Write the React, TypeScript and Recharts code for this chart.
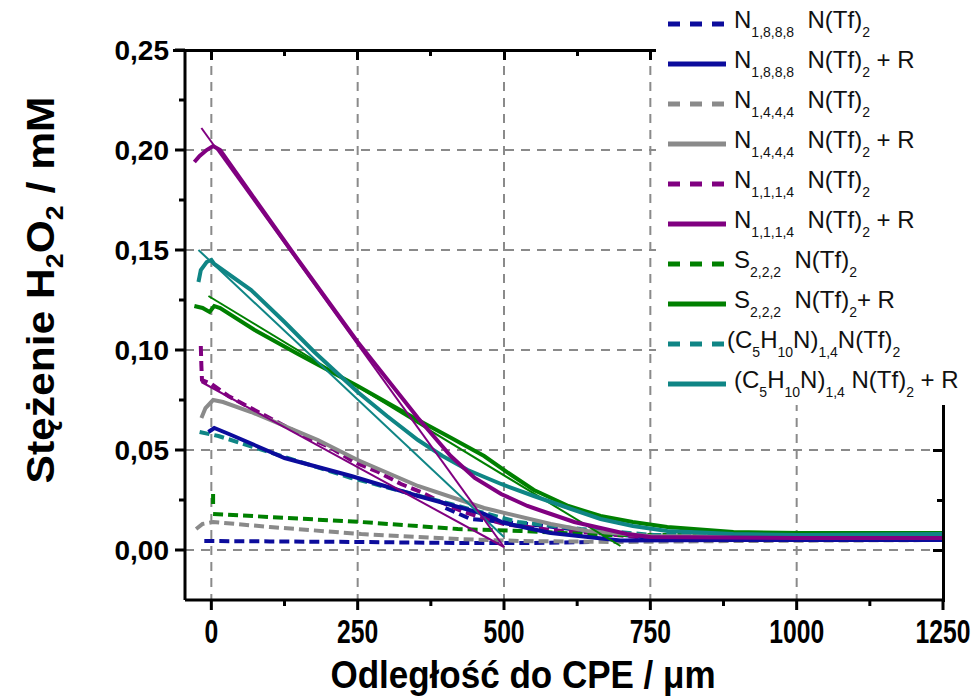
import React from 'react';
import { LineChart, Line, XAxis, YAxis, CartesianGrid } from 'recharts';

// colours of the series
const BLUE = '#0c0c9c';
const GRAY = '#8a8a8a';
const PURPLE = '#800080';
const GREEN = '#008000';
const TEAL = '#0f8585';

// axis ticks
const xTicks = [0, 125, 250, 375, 500, 625, 750, 875, 1000, 1125, 1250];
const xMajor = [0, 250, 500, 750, 1000, 1250];
const yTicks = [0, 0.025, 0.05, 0.075, 0.1, 0.125, 0.15, 0.175, 0.2, 0.225, 0.25];
const yMajor = [0, 0.05, 0.1, 0.15, 0.2, 0.25];
const xGrid = [0, 250, 500, 750, 1000];
const yGrid = [0, 0.05, 0.1, 0.15, 0.2];
const X_DOMAIN = [-45, 1250];
const Y_DOMAIN = [-0.025, 0.25];

// [distance / um, concentration / mM]; null y = break in the trace
const n1888 = [
  [-12, 0.0045], [100, 0.0043], [256, 0.004], [421, 0.0035], [550, 0.0035], [648, 0.004],
  [648, null],
  [400, 0.021], [443, 0.0155], [540, 0.013], [643, 0.0095], [750, 0.006], [900, 0.005], [1250, 0.005],
];
const n1888R = [
  [-5, 0.059], [5, 0.061], [30, 0.058], [125, 0.046], [239, 0.037], [353, 0.027], [466, 0.018],
  [500, 0.0135], [580, 0.0085], [699, 0.0048], [900, 0.005], [1250, 0.005],
];
const n1444 = [
  [-26, 0.0105], [-15, 0.013], [3, 0.014], [100, 0.0115], [256, 0.008], [421, 0.0055], [529, 0.0045],
  [699, 0.004], [900, 0.0045], [1250, 0.005],
];
const n1444R = [
  [-17, 0.066], [-10, 0.071], [3, 0.075], [20, 0.074], [68, 0.069], [182, 0.055], [250, 0.045],
  [353, 0.032], [466, 0.021], [580, 0.013], [643, 0.0095], [750, 0.007], [1000, 0.0065], [1250, 0.0065],
];
const n1114 = [
  [-18, 0.102], [-17, 0.092], [-16, 0.085], [0, 0.083], [29, 0.077], [80, 0.069], [119, 0.063],
  [159, 0.057], [205, 0.051], [244, 0.044], [285, 0.039], [324, 0.033], [358, 0.029], [392, 0.024],
  [431, 0.019], [500, 0.013], [580, 0.01], [677, 0.008], [755, 0.0055], [1000, 0.0055], [1250, 0.0055],
];
const n1114R = [
  [-29, 0.194], [-20, 0.197], [-8, 0.2], [3, 0.202], [15, 0.2], [68, 0.178], [136, 0.15], [250, 0.104],
  [353, 0.066], [409, 0.047], [450, 0.036], [495, 0.028], [540, 0.022], [580, 0.018], [620, 0.014],
  [665, 0.011], [710, 0.008], [750, 0.0065], [1000, 0.006], [1250, 0.006],
];
const n1114RFit = [[-17, 0.211], [500, 0.0015]];
const n1114Fit = [[-17, 0.084], [500, 0.0015]];
const s222 = [
  [3, 0.028], [3, 0.023], [3, null],
  [3, 0.018], [100, 0.0165], [256, 0.014], [421, 0.0105], [529, 0.0095], [670, 0.0075], [800, 0.0075],
  [1000, 0.008], [1250, 0.008],
];
const s222R = [
  [-29, 0.122], [-15, 0.121], [-3, 0.119], [5, 0.122], [15, 0.121], [74, 0.11], [148, 0.098],
  [250, 0.082], [353, 0.065], [410, 0.056], [466, 0.047], [510, 0.038], [551, 0.03], [610, 0.022],
  [665, 0.017], [720, 0.014], [779, 0.0115], [892, 0.009], [1006, 0.0085], [1250, 0.0085],
];
const s222RFit = [[-5, 0.127], [699, 0.002]];
const c5 = [
  [-20, 0.059], [12, 0.057], [120, 0.047], [239, 0.036], [409, 0.023], [524, 0.014], [631, 0.0105],
  [756, 0.0075], [1000, 0.0075], [1250, 0.0075],
];
const c5R = [
  [-22, 0.134], [-18, 0.14], [-8, 0.144], [0, 0.145], [5, 0.143], [68, 0.13], [125, 0.114],
  [176, 0.099], [250, 0.079], [300, 0.067], [353, 0.055], [395, 0.047], [438, 0.04], [495, 0.033],
  [551, 0.027], [610, 0.021], [665, 0.0155], [720, 0.012], [779, 0.0095], [892, 0.008], [1006, 0.0075],
  [1250, 0.008],
];
const c5RFit = [[-22, 0.15], [500, 0.0065]];

const toRows = (pts: (number | null)[][]) => pts.map(([x, y]) => ({ x, y }));

// plot box (chart margins + axis sizes below)
const PLOT = { left: 185, top: 50, right: 943, bottom: 600 };

const sub = (t: string) => (
  <span style={{ fontSize: 14, position: 'relative', top: 9 }}>{t}</span>
);

const legendItems = [
  { color: BLUE, dashed: true, label: <>N{sub('1,8,8,8')}&nbsp; N(Tf){sub('2')}</> },
  { color: BLUE, dashed: false, label: <>N{sub('1,8,8,8')}&nbsp; N(Tf){sub('2')} + R</> },
  { color: GRAY, dashed: true, label: <>N{sub('1,4,4,4')}&nbsp; N(Tf){sub('2')}</> },
  { color: GRAY, dashed: false, label: <>N{sub('1,4,4,4')}&nbsp; N(Tf){sub('2')} + R</> },
  { color: PURPLE, dashed: true, label: <>N{sub('1,1,1,4')}&nbsp; N(Tf){sub('2')}</> },
  { color: PURPLE, dashed: false, label: <>N{sub('1,1,1,4')}&nbsp; N(Tf){sub('2')} + R</> },
  { color: GREEN, dashed: true, label: <>S{sub('2,2,2')}&nbsp; N(Tf){sub('2')}</> },
  { color: GREEN, dashed: false, label: <>S{sub('2,2,2')}&nbsp; N(Tf){sub('2')}+ R</> },
  { color: TEAL, dashed: true, label: <>(C{sub('5')}H{sub('10')}N){sub('1,4')}N(Tf){sub('2')}</> },
  { color: TEAL, dashed: false, label: <>(C{sub('5')}H{sub('10')}N){sub('1,4')} N(Tf){sub('2')} + R</> },
];

const LegendBox = () => (
  <div style={{ position: 'absolute', left: 656, top: 0, background: '#fff', width: 319, height: 405,
    paddingTop: 4, boxSizing: 'border-box', zIndex: 10 }}>
    {legendItems.map((it, i) => (
      <div key={i} style={{ display: 'flex', alignItems: 'center', height: 40, color: '#111',
        fontFamily: "'Liberation Sans', Arial, sans-serif", fontSize: 24, whiteSpace: 'nowrap' }}>
        <svg width={i === 8 ? 71 : 78} height={10} style={{ flex: 'none' }}>
          <line x1={12} x2={i === 8 ? 71 : 70} y1={5} y2={5} stroke={it.color} strokeWidth={5}
            strokeDasharray={it.dashed ? '12 10' : undefined} />
        </svg>
        <span style={{ position: 'relative', top: -4 }}>{it.label}</span>
      </div>
    ))}
  </div>
);

const fmtY = (v: number) => v.toFixed(2).replace('.', ',');
const isMajorX = (v: number) => xMajor.includes(v);
const isMajorY = (v: number) => yMajor.some((m) => Math.abs(m - v) < 1e-9);

const BottomTick = ({ x, y, payload }: any) => {
  const major = isMajorX(payload.value);
  return (
    <g>
      <line x1={x} x2={x} y1={y} y2={y + (major ? 10 : 6)} stroke="#000" strokeWidth={3} />
      {major && (
        <text transform={`translate(${x}, ${y + 43}) scale(0.95, 1.25)`} textAnchor="middle" fill="#000"
          fontWeight="bold" fontSize={26} fontFamily="'Liberation Sans', Arial">{payload.value}</text>
      )}
    </g>
  );
};

const LeftTick = ({ x, y, payload }: any) => {
  const major = isMajorY(payload.value);
  return (
    <g>
      <line x1={x} x2={x - (major ? 10 : 6)} y1={y} y2={y} stroke="#000" strokeWidth={3} />
      {major && (
        <text x={x - 16} y={y + 10} textAnchor="end" fill="#000" fontWeight="bold" fontSize={28}
          fontFamily="'Liberation Sans', Arial">{fmtY(payload.value)}</text>
      )}
    </g>
  );
};

// top/right frame with inward ticks (Origin-style box), drawn as plain blocks
const blk = (left: number, top: number, width: number, height: number, key: string) => (
  <div key={key} style={{ position: 'absolute', left, top, width, height, background: '#000', zIndex: 5 }} />
);

const FrameBox = () => {
  const sx = (v: number) => PLOT.left + ((v - X_DOMAIN[0]) / (X_DOMAIN[1] - X_DOMAIN[0])) * (PLOT.right - PLOT.left);
  const sy = (v: number) => PLOT.bottom - ((v - Y_DOMAIN[0]) / (Y_DOMAIN[1] - Y_DOMAIN[0])) * (PLOT.bottom - PLOT.top);
  return (
    <>
      {blk(PLOT.left - 12, PLOT.top - 1.5, PLOT.right - PLOT.left + 13.5, 3, 'top')}
      {blk(PLOT.right - 1.5, PLOT.top - 1.5, 3, PLOT.bottom - PLOT.top + 3, 'right')}
      {xTicks.map((v) => blk(sx(v) - 1.5, PLOT.top, 3, isMajorX(v) ? 10 : 6, 't' + v))}
      {yTicks.map((v) => blk(PLOT.right - (isMajorY(v) ? 10 : 6), sy(v) - 1.5, isMajorY(v) ? 10 : 6, 3, 'r' + v))}
    </>
  );
};

const YTitle = () => (
  <text transform="translate(54, 290) rotate(-90) scale(1.12, 1)" textAnchor="middle" fontWeight="bold"
    fontSize={38} fill="#000" fontFamily="'Liberation Sans', Arial">
    Stężenie H<tspan fontSize={24} dy={9}>2</tspan><tspan dy={-9}>O</tspan>
    <tspan fontSize={24} dy={9}>2</tspan><tspan dy={-9}> / mM</tspan>
  </text>
);

const XTitle = () => (
  <text transform="translate(523, 688) scale(1.03, 1.16)" textAnchor="middle" fontWeight="bold"
    fontSize={34} fill="#000" fontFamily="'Liberation Sans', Arial">Odległość do CPE / μm</text>
);

const axisLine = { stroke: '#000', strokeWidth: 3 };

export default function App() {
  const series = [
    { d: n1888, c: BLUE, dash: true, w: 4 },
    { d: n1444, c: GRAY, dash: true, w: 4 },
    { d: n1114, c: PURPLE, dash: true, w: 4 },
    { d: s222, c: GREEN, dash: true, w: 4 },
    { d: c5, c: TEAL, dash: true, w: 4 },
    { d: n1888R, c: BLUE, dash: false, w: 4 },
    { d: n1444R, c: GRAY, dash: false, w: 4 },
    { d: s222R, c: GREEN, dash: false, w: 4 },
    { d: s222RFit, c: GREEN, dash: false, w: 2 },
    { d: c5R, c: TEAL, dash: false, w: 4 },
    { d: c5RFit, c: TEAL, dash: false, w: 2 },
    { d: n1114R, c: PURPLE, dash: false, w: 4 },
    { d: n1114RFit, c: PURPLE, dash: false, w: 2 },
    { d: n1114Fit, c: PURPLE, dash: false, w: 2 },
  ];
  return (
    <div style={{ position: 'absolute', left: 0, top: 0, width: 975, height: 697, background: '#fff' }}>
      <LineChart width={975} height={697} margin={{ top: 50, right: 32, bottom: 0, left: 100 }}>
        <CartesianGrid stroke="#8a8a8a" strokeWidth={2} strokeDasharray="9 7"
          verticalValues={xGrid} horizontalValues={yGrid} />
        <XAxis type="number" dataKey="x" domain={X_DOMAIN} ticks={xTicks} interval={0} height={97}
          tickSize={0} tickMargin={0} tick={<BottomTick />} tickLine={false} axisLine={axisLine}
          allowDataOverflow label={<XTitle />} />
        <YAxis type="number" domain={Y_DOMAIN} ticks={yTicks} interval={0} width={85}
          tickSize={0} tickMargin={0} tick={<LeftTick />} tickLine={false} axisLine={axisLine}
          allowDataOverflow label={<YTitle />} />
        {series.map((s, i) => (
          <Line key={i} data={toRows(s.d)} dataKey="y" type="linear" stroke={s.c} strokeWidth={s.w}
            strokeDasharray={s.dash ? '10 5' : undefined} dot={false} activeDot={false}
            isAnimationActive={false} connectNulls={false} legendType="none" />
        ))}
      </LineChart>
      <FrameBox />
      <LegendBox />
    </div>
  );
}
